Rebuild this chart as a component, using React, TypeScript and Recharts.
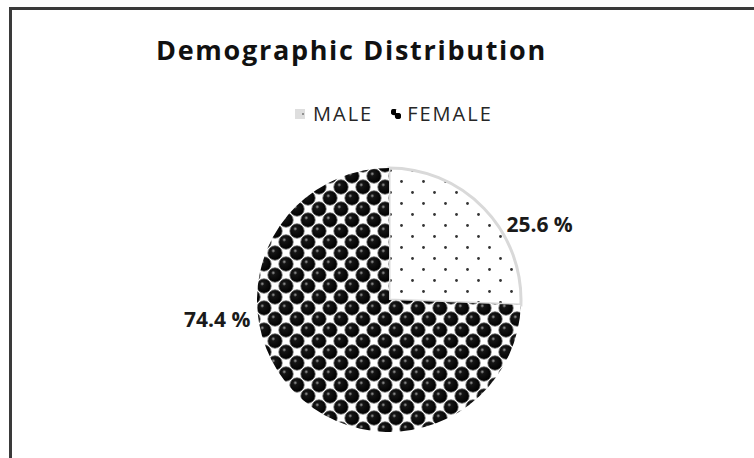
import { PieChart, Pie, Cell, Legend } from 'recharts'

const categories = ['MALE', 'FEMALE']
const shares = [25.6, 74.4]
const title = 'Demographic Distribution'

const data = categories.map((name, i) => ({ name, value: shares[i] }))

const FONT = '"Open Sans", "Liberation Sans", sans-serif'
const fills = ['url(#dots)', 'url(#spheres)']
const strokes = ['#d9d9d9', 'none']
// where Excel put the two data labels (deg, counter-clockwise from 3 o'clock)
const labelAngles = [33, 188]
const RAD = Math.PI / 180
const LEGEND_H = 20

const renderLabel = (props: any) => {
  const { cx, cy, outerRadius, index, value } = props
  const a = labelAngles[index] * RAD
  const r = outerRadius + 8
  const x = cx + r * Math.cos(a)
  const y = cy - r * Math.sin(a)
  return (
    <text
      x={x}
      y={y}
      textAnchor={Math.cos(a) >= 0 ? 'start' : 'end'}
      dominantBaseline="central"
      fill="#1a1a1a"
      fontFamily={FONT}
      fontWeight={700}
      fontSize={21}
    >
      {`${value.toFixed(1)} %`}
    </text>
  )
}

const LegendIcon = ({ index }: { index: number }) =>
  index === 0 ? (
    <svg width={10} height={10} style={{ marginRight: 8 }}>
      <rect width={10} height={10} fill="#dedede" />
      <circle cx={8} cy={5} r={1} fill="#777" />
    </svg>
  ) : (
    <svg width={10} height={10} style={{ marginRight: 6 }}>
      <rect width={10} height={10} fill="#fff" />
      <circle cx={3} cy={3} r={3.2} fill="#000" />
      <circle cx={7} cy={7} r={3.2} fill="#000" />
      <rect x={5} y={1} width={4} height={3} fill="#fff" />
    </svg>
  )

const LegendContent = () => (
  <div
    style={{
      display: 'flex',
      alignItems: 'center',
      height: LEGEND_H,
      fontFamily: FONT,
      fontSize: 20,
      lineHeight: '20px',
      color: '#262626',
      letterSpacing: 2,
    }}
  >
    {categories.map((c, i) => (
      <div key={c} style={{ display: 'flex', alignItems: 'center', marginRight: i === 0 ? 18 : 0 }}>
        <LegendIcon index={i} />
        <span>{c}</span>
      </div>
    ))}
  </div>
)

export default function App() {
  return (
    <div style={{ position: 'absolute', left: 0, top: 0, width: 754, height: 458, overflow: 'hidden', background: '#fff' }}>
      <div
        style={{
          position: 'absolute',
          left: 9,
          top: 7,
          width: 800,
          height: 500,
          borderLeft: '3px solid #3a3a3a',
          borderTop: '3px solid #3a3a3a',
        }}
      />
      <div
        style={{
          position: 'absolute',
          left: 156,
          top: 36,
          fontFamily: FONT,
          fontWeight: 700,
          fontSize: 27,
          lineHeight: '27px',
          letterSpacing: 1.7,
          color: '#111',
          whiteSpace: 'nowrap',
        }}
      >
        {title}
      </div>
      <div style={{ position: 'absolute', left: 0, top: 0 }}>
        <PieChart width={754} height={458} margin={{ top: 0, right: 0, bottom: 0, left: 0 }}>
          <defs>
            <pattern id="dots" width={22} height={22} patternUnits="userSpaceOnUse">
              <rect width={22} height={22} fill="#fff" />
              <circle cx={5.5} cy={5.5} r={1.4} fill="#333" />
              <circle cx={16.5} cy={16.5} r={1.4} fill="#333" />
            </pattern>
            <radialGradient id="ball" cx="38%" cy="35%" r="65%">
              <stop offset="0%" stopColor="#a0a0a0" />
              <stop offset="22%" stopColor="#151515" />
              <stop offset="100%" stopColor="#000" />
            </radialGradient>
            <pattern id="spheres" width={22} height={22} patternUnits="userSpaceOnUse">
              <rect width={22} height={22} fill="#fff" />
              {[
                [11, 11],
                [0, 0],
                [22, 0],
                [0, 22],
                [22, 22],
              ].map(([x, y]) => (
                <circle key={`${x}-${y}`} cx={x} cy={y} r={7.2} fill="url(#ball)" stroke="#666" strokeWidth={0.8} />
              ))}
            </pattern>
          </defs>
          <Legend
            verticalAlign="top"
            content={LegendContent}
            wrapperStyle={{ position: 'absolute', top: 104, left: 295, width: 'auto' }}
          />
          <Pie
            data={data}
            dataKey="value"
            nameKey="name"
            cx={389}
            cy={300 - LEGEND_H}
            outerRadius={132}
            startAngle={90}
            endAngle={-270}
            label={renderLabel}
            labelLine={false}
            isAnimationActive={false}
          >
            {data.map((d, i) => (
              <Cell key={d.name} fill={fills[i]} stroke={strokes[i]} strokeWidth={3} />
            ))}
          </Pie>
        </PieChart>
      </div>
    </div>
  )
}
